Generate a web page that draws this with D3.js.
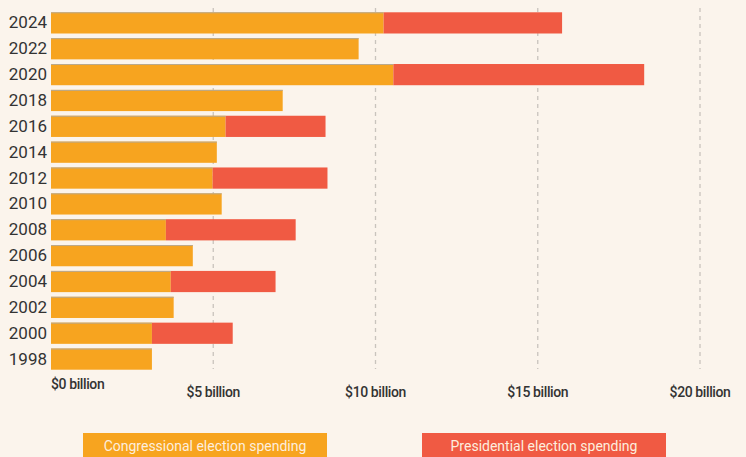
<!DOCTYPE html>
<html>
<head>
<meta charset="utf-8">
<script src="https://cdn.jsdelivr.net/npm/d3@7"></script>
<style>
  body { margin: 0; background: #fbf4ec; }
  svg { display: block; }
  .year text { font-family: "Liberation Sans Narrow", "Roboto", sans-serif; font-size: 17px; fill: #333; }
  .tick-label { font-family: "Roboto", sans-serif; font-size: 14px; font-weight: 500; fill: #333; letter-spacing: -0.4px; }
  .legend-text { font-family: "Roboto", sans-serif; font-size: 14px; fill: #fdeede; }
</style>
</head>
<body>
<div class="chart"></div>
<script>
// election years, top to bottom
const years = ['2024','2022','2020','2018','2016','2014','2012','2010','2008','2006','2004','2002','2000','1998'];
// spending in $ billion
const congressional = [10.25, 9.48, 10.55, 7.14, 5.38, 5.11, 4.98, 5.26, 3.54, 4.37, 3.69, 3.78, 3.11, 3.11];
const presidential  = [5.50, 0, 7.73, 0, 3.08, 0, 3.54, 0, 4.00, 0, 3.23, 0, 2.49, 0];
const ticks = [0, 5, 10, 15, 20];
const tickLabels = ['$0 billion', '$5 billion', '$10 billion', '$15 billion', '$20 billion'];
const legendLabels = ['Congressional election spending', 'Presidential election spending'];

const colors = { cong: '#f7a41f', pres: '#f05a43' };

const svg_width = 746, svg_height = 457;
const margin = { top: 11, left: 51 };

const svg = d3.select('.chart').append('svg')
  .attr('width', svg_width).attr('height', svg_height);

svg.append('rect').attr('width', svg_width).attr('height', svg_height).attr('fill', '#fbf4ec');

const xScale = d3.scaleLinear().domain([0, 20]).range([margin.left, 700]);
const yScale = d3.scaleBand().domain(years).range([margin.top, 371]).paddingInner(0.18).paddingOuter(0.05);

// dashed grid lines
svg.selectAll('.grid').data(ticks.slice(1)).enter()
  .append('line').attr('class', 'grid')
  .attr('x1', d => xScale(d)).attr('x2', d => xScale(d))
  .attr('y1', 8).attr('y2', 369)
  .attr('stroke', '#c9c4bd').attr('stroke-width', 1.3)
  .attr('stroke-dasharray', '4,4');

const data = years.map((y, i) => ({ year: y, cong: congressional[i], pres: presidential[i] }));

// congressional bars
svg.selectAll('.bar-c').data(data).enter()
  .append('rect').attr('class', 'bar-c')
  .attr('x', xScale(0)).attr('y', d => yScale(d.year))
  .attr('width', d => xScale(d.cong) - xScale(0))
  .attr('height', yScale.bandwidth())
  .attr('fill', colors.cong);

// presidential bars stacked on top
svg.selectAll('.bar-p').data(data.filter(d => d.pres > 0)).enter()
  .append('rect').attr('class', 'bar-p')
  .attr('x', d => xScale(d.cong)).attr('y', d => yScale(d.year))
  .attr('width', d => xScale(d.cong + d.pres) - xScale(d.cong))
  .attr('height', yScale.bandwidth())
  .attr('fill', colors.pres);

// thin grey top edge on the bars
svg.selectAll('.edge').data(data).enter()
  .append('line').attr('class', 'edge')
  .attr('x1', xScale(0)).attr('x2', d => xScale(d.cong))
  .attr('y1', d => yScale(d.year) + 0.5).attr('y2', d => yScale(d.year) + 0.5)
  .attr('stroke', '#b9a98f').attr('stroke-width', 1);

// year labels
const yAxis = d3.axisLeft(yScale).tickSize(0).tickPadding(4);
const yAxisDraw = svg.append('g').attr('class', 'year')
  .attr('transform', `translate(${margin.left},0)`).call(yAxis);
yAxisDraw.select('.domain').remove();
yAxisDraw.selectAll('text').attr('font-family', null).attr('font-size', null).attr('fill', null);

// x tick labels
svg.selectAll('.tick-label').data(ticks).enter()
  .append('text').attr('class', 'tick-label')
  .attr('x', d => xScale(d))
  .attr('y', d => d === 0 ? 389 : 397)
  .attr('text-anchor', d => d === 0 ? 'start' : 'middle')
  .text((d, i) => tickLabels[i]);

// legend
const legendX = [83, 422];
const legend = svg.selectAll('.legend').data(legendLabels).enter()
  .append('g').attr('class', 'legend')
  .attr('transform', (d, i) => `translate(${legendX[i]},433)`);
legend.append('rect').attr('width', 244).attr('height', 30)
  .attr('fill', (d, i) => i === 0 ? colors.cong : colors.pres);
legend.append('text').attr('class', 'legend-text')
  .attr('x', 122).attr('y', 18).attr('text-anchor', 'middle')
  .text(d => d);
</script>
</body>
</html>
